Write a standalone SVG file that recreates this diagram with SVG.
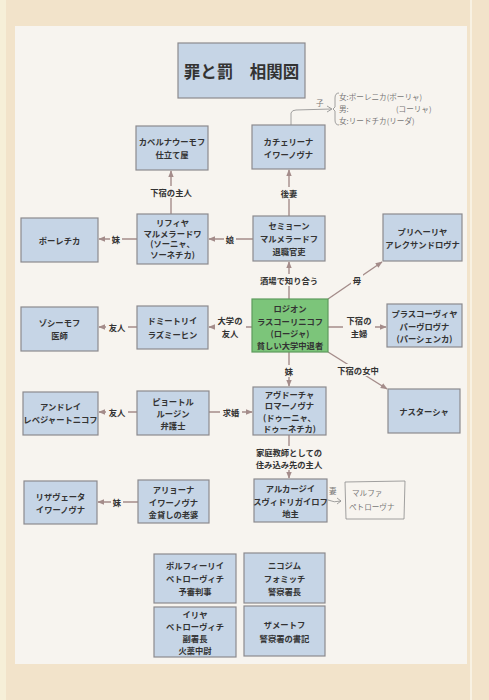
<svg xmlns="http://www.w3.org/2000/svg" width="489" height="700" viewBox="0 0 489 700">
<defs>
<style>
.n{fill:#c6d5e6;stroke:#8c8a8e;stroke-width:1.2}
.g{fill:#7cc57a;stroke:#5e9a5c;stroke-width:1.2}
.t{font-family:"Noto Sans CJK JP","Noto Sans CJK SC",sans-serif;font-weight:bold;font-size:8.3px;fill:#333;text-anchor:middle;dominant-baseline:central}
.e{stroke:#a48c8a;stroke-width:1.4;fill:none}
.lb{fill:#f7f4ef}
.h{font-family:"Noto Sans CJK JP",sans-serif;font-size:7.6px;fill:#777}
.hl{stroke:#8a8a8a;stroke-width:0.8;fill:none}
</style>
<marker id="a" viewBox="0 0 10 10" refX="9" refY="5" markerWidth="5" markerHeight="5" orient="auto-start-reverse">
<path d="M0,1 L10,5 L0,9 z" fill="#a48c8a"/>
</marker>
</defs>
<rect x="0" y="0" width="489" height="700" fill="#f2e3ca"/>
<rect x="0" y="0" width="6" height="700" fill="#f6efd8"/>
<rect x="15" y="26" width="452" height="638" fill="#f7f4ef"/>
<line x1="471" y1="0" x2="471" y2="700" stroke="#f8f1e2" stroke-width="2"/>

<g id="title">
<rect x="178" y="43" width="127" height="55" class="n"/>
<text x="241.5" y="71" class="t" style="font-size:16.5px">罪と罰　相関図</text>
</g>

<g id="connectors">
<line x1="171" y1="214" x2="171" y2="171" class="e" marker-end="url(#a)"/>
<line x1="289" y1="216" x2="289" y2="170" class="e" marker-end="url(#a)"/>
<line x1="137" y1="239" x2="99" y2="239" class="e" marker-end="url(#a)"/>
<line x1="253" y1="239" x2="209" y2="239" class="e" marker-end="url(#a)"/>
<line x1="289" y1="299" x2="289" y2="262" class="e" marker-end="url(#a)"/>
<line x1="328" y1="299" x2="382" y2="262" class="e" marker-end="url(#a)"/>
<line x1="328" y1="327" x2="386" y2="327" class="e" marker-end="url(#a)"/>
<line x1="328" y1="352" x2="387" y2="389" class="e" marker-end="url(#a)"/>
<line x1="252" y1="327" x2="209" y2="327" class="e" marker-end="url(#a)"/>
<line x1="137" y1="327" x2="99" y2="327" class="e" marker-end="url(#a)"/>
<line x1="289" y1="352" x2="289" y2="386" class="e" marker-end="url(#a)"/>
<line x1="209" y1="412" x2="252" y2="412" class="e" marker-end="url(#a)"/>
<line x1="137" y1="412" x2="99" y2="412" class="e" marker-end="url(#a)"/>
<line x1="138" y1="502" x2="98" y2="502" class="e" marker-end="url(#a)"/>
<line x1="289" y1="435" x2="289" y2="478" class="e" marker-end="url(#a)"/>

<rect x="145" y="186" width="52" height="12" class="lb"/>
<text x="171" y="192" class="t">下宿の主人</text>
<rect x="278" y="187" width="22" height="12" class="lb"/>
<text x="289" y="193" class="t">後妻</text>
<rect x="110" y="233" width="12" height="12" class="lb"/>
<text x="116" y="239" class="t">妹</text>
<rect x="224" y="233" width="12" height="12" class="lb"/>
<text x="230" y="239" class="t">娘</text>
<rect x="255" y="274" width="68" height="12" class="lb"/>
<text x="289" y="280" class="t">酒場で知り合う</text>
<rect x="351" y="274" width="12" height="12" class="lb"/>
<text x="357" y="280" class="t">母</text>
<rect x="343" y="314" width="32" height="25" class="lb"/>
<text x="359" y="320" class="t">下宿の</text>
<text x="359" y="333" class="t">主婦</text>
<rect x="333" y="364" width="50" height="12" class="lb"/>
<text x="358" y="370" class="t">下宿の女中</text>
<rect x="215" y="314" width="31" height="25" class="lb"/>
<text x="230" y="320" class="t">大学の</text>
<text x="230" y="333" class="t">友人</text>
<rect x="106" y="321" width="22" height="12" class="lb"/>
<text x="117" y="327" class="t">友人</text>
<rect x="283" y="365" width="12" height="12" class="lb"/>
<text x="289" y="371" class="t">妹</text>
<rect x="220" y="406" width="22" height="12" class="lb"/>
<text x="231" y="412" class="t">求婚</text>
<rect x="106" y="406" width="22" height="12" class="lb"/>
<text x="117" y="412" class="t">友人</text>
<rect x="111" y="496" width="12" height="12" class="lb"/>
<text x="117" y="502" class="t">妹</text>
<rect x="250" y="446" width="78" height="24" class="lb"/>
<text x="289" y="452" class="t">家庭教師としての</text>
<text x="289" y="464" class="t">住み込み先の主人</text>
</g>

<g id="kapernaumov">
<rect x="136" y="126" width="72" height="44" class="n"/>
<text x="172" y="141" class="t">カペルナウーモフ</text>
<text x="172" y="154" class="t">仕立て屋</text>
</g>
<g id="katerina">
<rect x="252" y="125" width="73" height="44" class="n"/>
<text x="288.5" y="141" class="t">カチェリーナ</text>
<text x="288.5" y="154" class="t">イワーノヴナ</text>
</g>
<g id="sofya">
<rect x="137" y="214" width="71" height="50" class="n"/>
<text x="172.5" y="222" class="t">リフィヤ</text>
<text x="172.5" y="232.5" class="t">マルメラードワ</text>
<text x="172.5" y="243" class="t">(ソーニャ、</text>
<text x="172.5" y="253.5" class="t">ソーネチカ)</text>
</g>
<g id="polechka">
<rect x="21" y="218" width="77" height="44" class="n"/>
<text x="59.5" y="240" class="t">ポーレチカ</text>
</g>
<g id="semyon">
<rect x="253" y="216" width="72" height="45" class="n"/>
<text x="289" y="225" class="t">セミョーン</text>
<text x="289" y="238" class="t">マルメラードフ</text>
<text x="289" y="251" class="t">退職官吏</text>
</g>
<g id="pulkheria">
<rect x="383" y="214" width="79" height="47" class="n"/>
<text x="422.5" y="231" class="t">プリヘーリヤ</text>
<text x="422.5" y="244" class="t">アレクサンドロヴナ</text>
</g>
<g id="rodion">
<rect x="252" y="299" width="76" height="53" class="g"/>
<text x="290" y="308" class="t">ロジオン</text>
<text x="290" y="320.5" class="t">ラスコーリニコフ</text>
<text x="290" y="333" class="t">(ロージャ)</text>
<text x="290" y="345" class="t">貧しい大学中退者</text>
</g>
<g id="praskovya">
<rect x="387" y="304" width="75" height="43" class="n"/>
<text x="424.5" y="313" class="t">プラスコーヴィヤ</text>
<text x="424.5" y="325.5" class="t">パーヴロヴナ</text>
<text x="424.5" y="338" class="t">(パーシェンカ)</text>
</g>
<g id="dmitri">
<rect x="137" y="306" width="71" height="43" class="n"/>
<text x="172.5" y="320" class="t">ドミートリイ</text>
<text x="172.5" y="334" class="t">ラズミーヒン</text>
</g>
<g id="zosimov">
<rect x="21" y="307" width="77" height="44" class="n"/>
<text x="59.5" y="322" class="t">ゾシーモフ</text>
<text x="59.5" y="335" class="t">医師</text>
</g>
<g id="nastasya">
<rect x="388" y="389" width="72" height="44" class="n"/>
<text x="424" y="411" class="t">ナスターシャ</text>
</g>
<g id="avdotya">
<rect x="253" y="387" width="73" height="48" class="n"/>
<text x="289.5" y="394" class="t">アヴドーチャ</text>
<text x="289.5" y="405" class="t">ロマーノヴナ</text>
<text x="289.5" y="416.5" class="t">(ドゥーニャ、</text>
<text x="289.5" y="428" class="t">ドゥーネチカ)</text>
</g>
<g id="pyotr">
<rect x="137" y="391" width="72" height="44" class="n"/>
<text x="173" y="401" class="t">ピョートル</text>
<text x="173" y="413" class="t">ルージン</text>
<text x="173" y="425" class="t">弁護士</text>
</g>
<g id="andrei">
<rect x="23" y="392" width="75" height="43" class="n"/>
<text x="60.5" y="406" class="t">アンドレイ</text>
<text x="60.5" y="419" class="t">レベジャートニコフ</text>
</g>
<g id="alyona">
<rect x="138" y="480" width="71" height="43" class="n"/>
<text x="173.5" y="489" class="t">アリョーナ</text>
<text x="173.5" y="501.5" class="t">イワーノヴナ</text>
<text x="173.5" y="514" class="t">金貸しの老婆</text>
</g>
<g id="lizaveta">
<rect x="24" y="481" width="73" height="43" class="n"/>
<text x="60.5" y="496" class="t">リザヴェータ</text>
<text x="60.5" y="509" class="t">イワーノヴナ</text>
</g>
<g id="arkady">
<rect x="254" y="479" width="73" height="43" class="n"/>
<text x="290.5" y="488" class="t">アルカージイ</text>
<text x="290.5" y="500.5" class="t">スヴィドリガイロフ</text>
<text x="290.5" y="513" class="t">地主</text>
</g>
<g id="porfiry">
<rect x="154" y="554" width="82" height="49" class="n"/>
<text x="195" y="565" class="t">ポルフィーリイ</text>
<text x="195" y="578" class="t">ペトローヴィチ</text>
<text x="195" y="591" class="t">予審判事</text>
</g>
<g id="nikodim">
<rect x="244" y="553" width="81" height="50" class="n"/>
<text x="284.5" y="565" class="t">ニコジム</text>
<text x="284.5" y="578" class="t">フォミッチ</text>
<text x="284.5" y="591" class="t">警察署長</text>
</g>
<g id="ilya">
<rect x="154" y="607" width="82" height="50" class="n"/>
<text x="195" y="614" class="t">イリヤ</text>
<text x="195" y="626" class="t">ペトローヴィチ</text>
<text x="195" y="638" class="t">副署長</text>
<text x="195" y="650" class="t">火薬中尉</text>
</g>
<g id="zametov">
<rect x="244" y="606" width="81" height="50" class="n"/>
<text x="284.5" y="624" class="t">ザメートフ</text>
<text x="284.5" y="638" class="t">警察署の書記</text>
</g>

<g id="notes">
<path d="M291,125 L291,113 Q292,110 296,110 L331,109" class="hl"/>
<path d="M327,106 L332,109 L327,112" class="hl"/>
<text x="316" y="106" class="h">子</text>
<path d="M339,93 Q335,93 335,98 L335,107 L333,109 L335,111 L335,120 Q335,125 339,125" class="hl"/>
<text x="339" y="100" class="h">女:ポーレニカ(ポーリャ)</text>
<text x="339" y="112" class="h">男:</text>
<text x="396" y="112" class="h">(コーリャ)</text>
<text x="339" y="124" class="h">女:リードチカ(リーダ)</text>
<text x="329" y="494" class="h">妻</text>
<path d="M328,500 Q334,503 341,501" class="hl"/>
<path d="M337,498 L341,501 L337,504" class="hl"/>
<path d="M345,482 L405,481 L404,519 L346,519 Z" class="hl"/>
<text x="352" y="496" class="h">マルファ</text>
<text x="349" y="510" class="h">ペトローヴナ</text>
</g>
</svg>
